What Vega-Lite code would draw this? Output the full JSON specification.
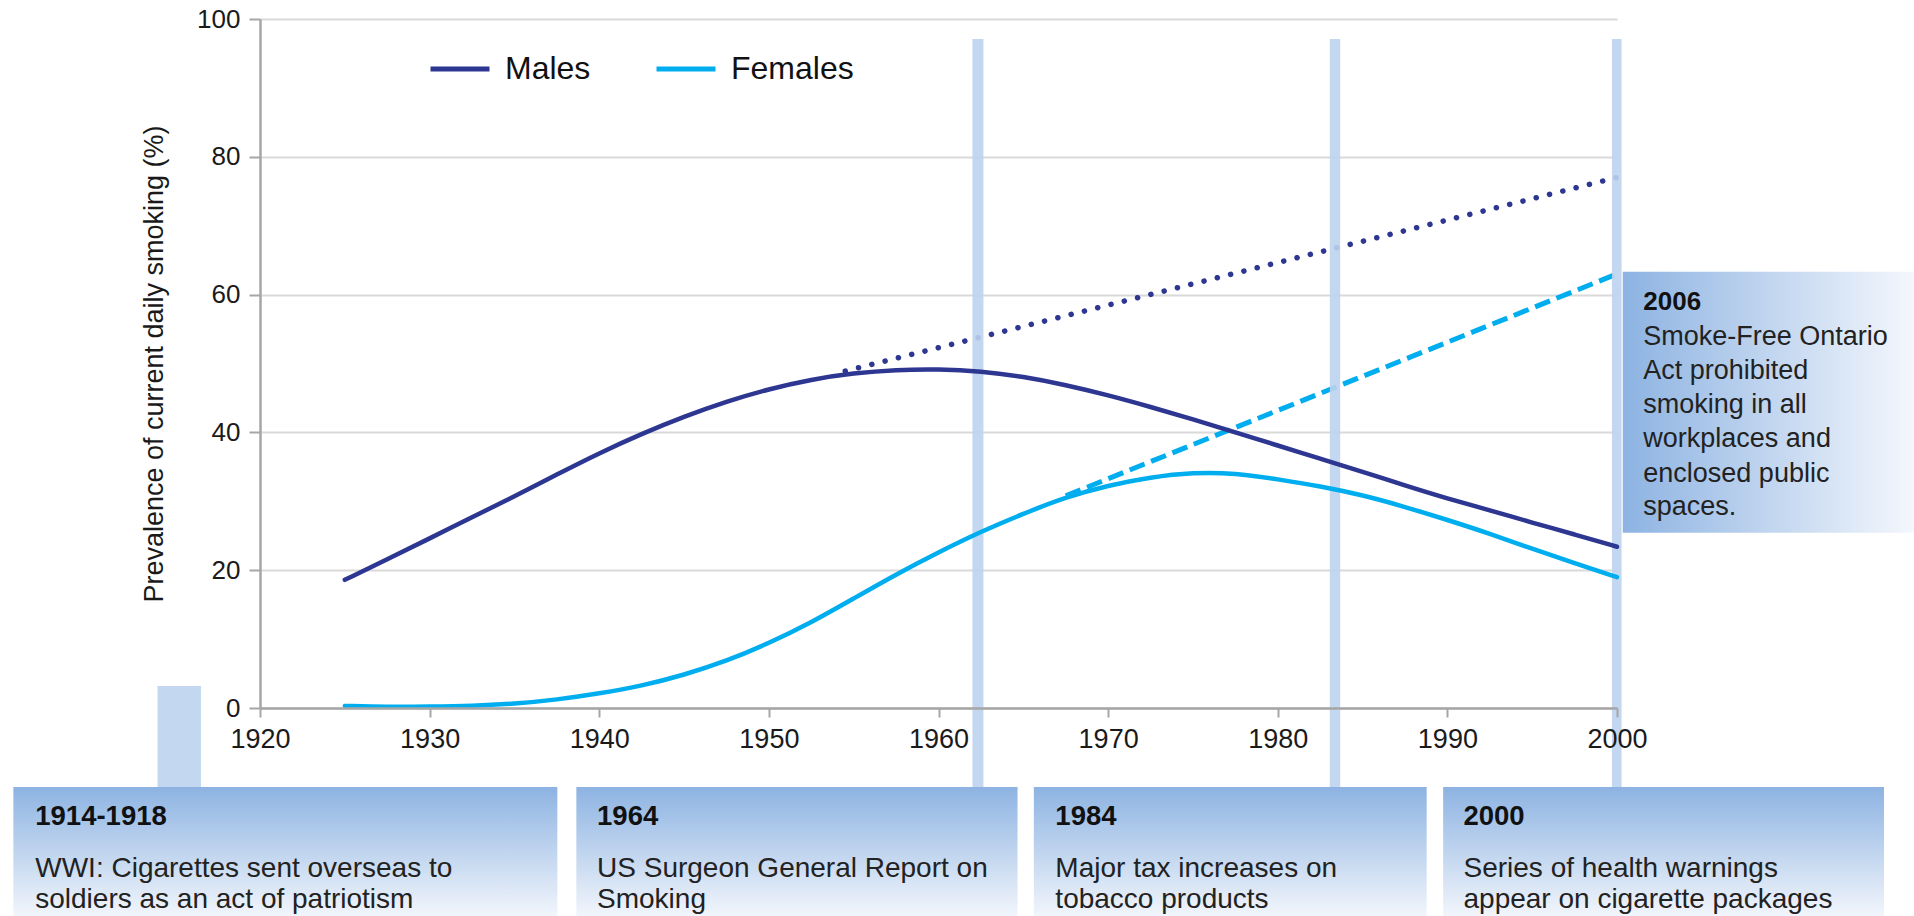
{
  "$schema": "https://vega.github.io/schema/vega-lite/v6.json",
  "width": 1357,
  "height": 689,
  "autosize": {"type": "none"},
  "padding": {"left": 260, "top": 19, "right": 297, "bottom": 208},
  "background": "white",
  "config": {"font": "Liberation Sans", "view": {"stroke": null}},
  "datasets": {
    "main": [
      {"series": "Males", "year": 1925, "value": 18.6},
      {"series": "Males", "year": 1927.5, "value": 21.6},
      {"series": "Males", "year": 1930, "value": 24.6},
      {"series": "Males", "year": 1932.5, "value": 27.7},
      {"series": "Males", "year": 1935, "value": 30.7},
      {"series": "Males", "year": 1937.5, "value": 33.9},
      {"series": "Males", "year": 1940, "value": 37.0},
      {"series": "Males", "year": 1942.5, "value": 39.8},
      {"series": "Males", "year": 1945, "value": 42.3},
      {"series": "Males", "year": 1947.5, "value": 44.5},
      {"series": "Males", "year": 1950, "value": 46.3},
      {"series": "Males", "year": 1952.5, "value": 47.7},
      {"series": "Males", "year": 1955, "value": 48.6},
      {"series": "Males", "year": 1957.5, "value": 49.1},
      {"series": "Males", "year": 1960, "value": 49.2},
      {"series": "Males", "year": 1962.5, "value": 48.9},
      {"series": "Males", "year": 1965, "value": 48.1},
      {"series": "Males", "year": 1967.5, "value": 46.9},
      {"series": "Males", "year": 1970, "value": 45.4},
      {"series": "Males", "year": 1972.5, "value": 43.7},
      {"series": "Males", "year": 1975, "value": 41.9},
      {"series": "Males", "year": 1977.5, "value": 40.0},
      {"series": "Males", "year": 1980, "value": 38.1},
      {"series": "Males", "year": 1982.5, "value": 36.2},
      {"series": "Males", "year": 1985, "value": 34.3},
      {"series": "Males", "year": 1987.5, "value": 32.3},
      {"series": "Males", "year": 1990, "value": 30.4},
      {"series": "Males", "year": 1992.5, "value": 28.7},
      {"series": "Males", "year": 1995, "value": 26.9},
      {"series": "Males", "year": 1997.5, "value": 25.2},
      {"series": "Males", "year": 2000, "value": 23.4},
      {"series": "Females", "year": 1925, "value": 0.3},
      {"series": "Females", "year": 1927.5, "value": 0.15},
      {"series": "Females", "year": 1930, "value": 0.2},
      {"series": "Females", "year": 1932.5, "value": 0.3},
      {"series": "Females", "year": 1935, "value": 0.6},
      {"series": "Females", "year": 1937.5, "value": 1.2},
      {"series": "Females", "year": 1940, "value": 2.1},
      {"series": "Females", "year": 1942.5, "value": 3.2},
      {"series": "Females", "year": 1945, "value": 4.8},
      {"series": "Females", "year": 1947.5, "value": 6.8},
      {"series": "Females", "year": 1950, "value": 9.4},
      {"series": "Females", "year": 1952.5, "value": 12.4},
      {"series": "Females", "year": 1955, "value": 15.9},
      {"series": "Females", "year": 1957.5, "value": 19.4},
      {"series": "Females", "year": 1960, "value": 22.6},
      {"series": "Females", "year": 1962.5, "value": 25.6},
      {"series": "Females", "year": 1965, "value": 28.2},
      {"series": "Females", "year": 1967.5, "value": 30.6},
      {"series": "Females", "year": 1970, "value": 32.3},
      {"series": "Females", "year": 1972.5, "value": 33.5},
      {"series": "Females", "year": 1975, "value": 34.2},
      {"series": "Females", "year": 1977.5, "value": 34.1},
      {"series": "Females", "year": 1980, "value": 33.2},
      {"series": "Females", "year": 1982.5, "value": 32.2},
      {"series": "Females", "year": 1985, "value": 30.9},
      {"series": "Females", "year": 1987.5, "value": 29.2},
      {"series": "Females", "year": 1990, "value": 27.3},
      {"series": "Females", "year": 1992.5, "value": 25.3},
      {"series": "Females", "year": 1995, "value": 23.1},
      {"series": "Females", "year": 1997.5, "value": 21.0},
      {"series": "Females", "year": 2000, "value": 19.0}
    ],
    "projMales": [
      {"year": 1954.5, "value": 48.9},
      {"year": 2000, "value": 77.0}
    ],
    "projFemales": [
      {"year": 1967.5, "value": 30.8},
      {"year": 2000, "value": 63.0}
    ],
    "bands": [
      {"year": 1962.0, "year2": 1962.65, "value": 97.1, "value2": -11.47},
      {"year": 1983.07, "year2": 1983.68, "value": 97.1, "value2": -11.47},
      {"year": 1999.7, "year2": 2000.27, "value": 97.1, "value2": -11.47},
      {"year": 1913.96, "year2": 1916.52, "value": 3.19, "value2": -11.47}
    ],
    "boxes": [
      {"year": 1905.46, "year2": 1937.53, "value": -11.47, "value2": -30.6},
      {"year": 1938.65, "year2": 1964.66, "value": -11.47, "value2": -30.6},
      {"year": 1965.62, "year2": 1988.78, "value": -11.47, "value2": -30.6},
      {"year": 1989.75, "year2": 2015.74, "value": -11.47, "value2": -30.6}
    ],
    "box2006": [
      {"year": 2000.34, "year2": 2018.5, "value": 63.32, "value2": 25.44}
    ],
    "heads": [
      {"year": 1906.75, "value": -16.98, "label": "1914-1918"},
      {"year": 1939.87, "value": -16.98, "label": "1964"},
      {"year": 1966.89, "value": -16.98, "label": "1984"},
      {"year": 1990.95, "value": -16.98, "label": "2000"}
    ],
    "head2006": [
      {"year": 2001.55, "value": 57.77, "label": "2006"}
    ],
    "bodies": [
      {"year": 1906.75, "value": -24.48, "label": "WWI: Cigarettes sent overseas to"},
      {"year": 1906.75, "value": -29.03, "label": "soldiers as an act of patriotism"},
      {"year": 1939.87, "value": -24.48, "label": "US Surgeon General Report on"},
      {"year": 1939.87, "value": -29.03, "label": "Smoking"},
      {"year": 1966.89, "value": -24.48, "label": "Major tax increases on"},
      {"year": 1966.89, "value": -29.03, "label": "tobacco products"},
      {"year": 1990.95, "value": -24.48, "label": "Series of health warnings"},
      {"year": 1990.95, "value": -29.03, "label": "appear on cigarette packages"}
    ],
    "body2006": [
      {"year": 2001.55, "value": 52.69, "label": "Smoke-Free Ontario"},
      {"year": 2001.55, "value": 47.71, "label": "Act prohibited"},
      {"year": 2001.55, "value": 42.77, "label": "smoking in all"},
      {"year": 2001.55, "value": 37.92, "label": "workplaces and"},
      {"year": 2001.55, "value": 32.85, "label": "enclosed public"},
      {"year": 2001.55, "value": 28.01, "label": "spaces."}
    ]
  },
  "encoding": {
    "x": {
      "field": "year",
      "type": "quantitative",
      "scale": {"domain": [1920, 2000], "nice": false, "zero": false},
      "axis": {
        "values": [1920, 1930, 1940, 1950, 1960, 1970, 1980, 1990, 2000],
        "format": "d",
        "grid": false,
        "title": null,
        "labelFlush": false,
        "labelOverlap": false,
        "domainColor": "#A6A6A6",
        "domainWidth": 2.5,
        "tickColor": "#A6A6A6",
        "tickWidth": 2,
        "tickSize": 9,
        "labelFontSize": 27,
        "labelColor": "#1a1a1a",
        "labelPadding": 9,
        "zindex": 1
      }
    },
    "y": {
      "field": "value",
      "type": "quantitative",
      "scale": {"domain": [0, 100], "nice": false, "zero": false},
      "axis": {
        "values": [0, 20, 40, 60, 80, 100],
        "grid": true,
        "gridColor": "#D9D9D9",
        "gridWidth": 2,
        "domainColor": "#A6A6A6",
        "domainWidth": 2.5,
        "tickColor": "#A6A6A6",
        "tickWidth": 2,
        "tickSize": 11,
        "labelFontSize": 26,
        "labelColor": "#1a1a1a",
        "labelPadding": 9,
        "title": "Prevalence of current daily smoking (%)",
        "titleFontSize": 27,
        "titleFontWeight": "normal",
        "titleColor": "#1a1a1a",
        "titlePadding": 28
      }
    }
  },
  "layer": [
    {
      "data": {"name": "boxes"},
      "mark": {
        "type": "rect",
        "fill": {
          "gradient": "linear",
          "x1": 0, "y1": 0, "x2": 0, "y2": 1,
          "stops": [
            {"offset": 0, "color": "#8DB3E2"},
            {"offset": 1, "color": "#F4F7FC"}
          ]
        }
      },
      "encoding": {"x2": {"field": "year2"}, "y2": {"field": "value2"}}
    },
    {
      "data": {"name": "box2006"},
      "mark": {
        "type": "rect",
        "fill": {
          "gradient": "linear",
          "x1": 0, "y1": 0, "x2": 1, "y2": 0,
          "stops": [
            {"offset": 0, "color": "#8DB3E2"},
            {"offset": 1, "color": "#FAFBFE"}
          ]
        }
      },
      "encoding": {"x2": {"field": "year2"}, "y2": {"field": "value2"}}
    },
    {
      "data": {"name": "projMales"},
      "mark": {"type": "line", "color": "#2D3691", "strokeWidth": 5.5, "strokeCap": "round", "strokeDash": [0.1, 13.6]},
      "encoding": {}
    },
    {
      "data": {"name": "projFemales"},
      "mark": {"type": "line", "color": "#00AEEF", "strokeWidth": 5, "strokeCap": "butt", "strokeDash": [16, 7]},
      "encoding": {}
    },
    {
      "data": {"name": "bands"},
      "mark": {"type": "rect", "fill": "#BDD3EE", "opacity": 0.9},
      "encoding": {"x2": {"field": "year2"}, "y2": {"field": "value2"}}
    },
    {
      "data": {"name": "main"},
      "mark": {"type": "line", "interpolate": "basis", "strokeWidth": 4.5, "strokeCap": "round"},
      "encoding": {
        "color": {
          "field": "series",
          "type": "nominal",
          "scale": {"domain": ["Males", "Females"], "range": ["#2D3691", "#00AEEF"]},
          "legend": {
            "orient": "none",
            "legendX": 168,
            "legendY": 18,
            "direction": "horizontal",
            "title": null,
            "symbolType": "stroke",
            "symbolSize": 3481,
            "symbolStrokeWidth": 5,
            "labelFontSize": 32,
            "labelColor": "#111111",
            "labelOffset": 13,
            "columnPadding": 55,
            "padding": 0
          }
        }
      }
    },
    {
      "data": {"name": "heads"},
      "mark": {"type": "text", "align": "left", "baseline": "alphabetic", "fontSize": 27.5, "fontWeight": "bold", "color": "#111111"},
      "encoding": {"text": {"field": "label"}}
    },
    {
      "data": {"name": "head2006"},
      "mark": {"type": "text", "align": "left", "baseline": "alphabetic", "fontSize": 26, "fontWeight": "bold", "color": "#111111"},
      "encoding": {"text": {"field": "label"}}
    },
    {
      "data": {"name": "bodies"},
      "mark": {"type": "text", "align": "left", "baseline": "alphabetic", "fontSize": 28, "color": "#222222"},
      "encoding": {"text": {"field": "label"}}
    },
    {
      "data": {"name": "body2006"},
      "mark": {"type": "text", "align": "left", "baseline": "alphabetic", "fontSize": 27, "color": "#222222"},
      "encoding": {"text": {"field": "label"}}
    }
  ]
}
